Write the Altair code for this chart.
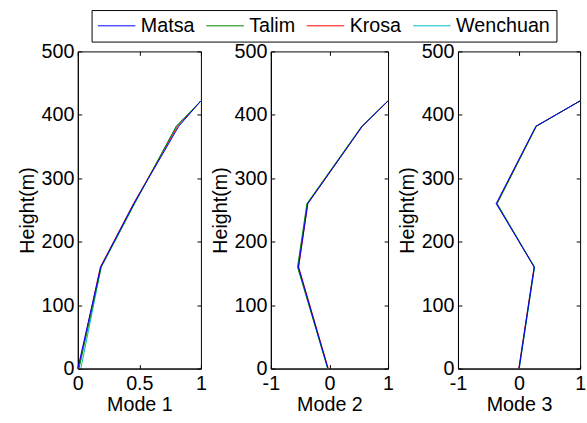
import altair as alt
import pandas as pd

heights = [0, 160, 260, 382, 422]
series = ["Matsa", "Talim", "Krosa", "Wenchuan"]
colors = ["#0000ff", "#008000", "#ff0000", "#00bfbf"]

mode1_matsa = [0.0, 0.186, 0.455, 0.82, 1.0]
mode1_talim = [0.01, 0.19, 0.46, 0.80, 1.0]
mode1_krosa = [0.005, 0.183, 0.452, 0.81, 1.0]
mode1_wenchuan = [0.025, 0.19, 0.462, 0.80, 1.0]

mode2_matsa = [-0.025, -0.53, -0.37, 0.56, 1.0]
mode2_talim = [-0.03, -0.545, -0.385, 0.55, 1.0]
mode2_krosa = [-0.02, -0.525, -0.37, 0.56, 1.0]
mode2_wenchuan = [-0.03, -0.535, -0.375, 0.555, 1.0]

mode3_matsa = [0.0, 0.25, -0.375, 0.275, 1.0]
mode3_talim = [0.0, 0.25, -0.36, 0.285, 1.0]
mode3_krosa = [-0.005, 0.245, -0.365, 0.28, 1.0]
mode3_wenchuan = [0.005, 0.255, -0.36, 0.28, 1.0]

y_ticks = [0, 100, 200, 300, 400, 500]
x_ticks1 = [0, 0.5, 1]
x_ticks23 = [-1, 0, 1]

FONT = "Liberation Sans"
H = 322


def make_df(vals):
    rows = []
    # drawn in reverse so that the first series lies on top
    for name, v in reversed(list(zip(series, vals))):
        for h, x in zip(heights, v):
            rows.append({"series": name, "x": x, "height": h})
    return pd.DataFrame(rows)


def panel(df, xdom, xticks, title, W, show_legend):
    xs = alt.Scale(domain=xdom, nice=False, zero=False)
    ys = alt.Scale(domain=[0, 500], nice=False)
    if show_legend:
        legend = alt.Legend(
            orient="none", legendX=14, legendY=-42, direction="horizontal",
            title=None, symbolType="M-1,0H3", symbolSize=361, symbolStrokeWidth=1,
            labelFontSize=20, labelFont=FONT, labelColor="black",
            strokeColor="black", fillColor="white", padding=6,
            columnPadding=9, labelOffset=24,
        )
    else:
        legend = None
    lines = alt.Chart(df).mark_line(strokeWidth=1).encode(
        x=alt.X("x:Q", scale=xs, axis=alt.Axis(
            values=xticks, title=title, ticks=False, grid=False, labelFlush=False,
            labelPadding=5, titlePadding=2, labelExpr="'' + datum.value")),
        y=alt.Y("height:Q", scale=ys, axis=alt.Axis(
            values=y_ticks, title="Height(m)", ticks=False, grid=False,
            labelFlush=False, labelPadding=4, titlePadding=4)),
        color=alt.Color("series:N", scale=alt.Scale(domain=series, range=colors),
                        legend=legend),
        order=alt.Order("height:Q"),
    )

    def tick_layer(xo, yo):
        return alt.Chart(df).mark_point(opacity=0).encode(
            x=alt.X("x:Q", scale=xs, axis=alt.Axis(
                orient=xo, offset=-H, values=xticks, labels=False, domain=False,
                tickSize=4, tickColor="black", title=None, grid=False)),
            y=alt.Y("height:Q", scale=ys, axis=alt.Axis(
                orient=yo, offset=-W, values=y_ticks, labels=False, domain=False,
                tickSize=4, tickColor="black", title=None, grid=False)),
        )

    return alt.layer(lines, tick_layer("top", "right"), tick_layer("bottom", "left")).resolve_axis(
        x="independent", y="independent").properties(width=W, height=H)


p1 = panel(make_df([mode1_matsa, mode1_talim, mode1_krosa, mode1_wenchuan]),
           [0, 1], x_ticks1, "Mode 1", 125, True)
p2 = panel(make_df([mode2_matsa, mode2_talim, mode2_krosa, mode2_wenchuan]),
           [-1, 1], x_ticks23, "Mode 2", 119, False)
p3 = panel(make_df([mode3_matsa, mode3_talim, mode3_krosa, mode3_wenchuan]),
           [-1, 1], x_ticks23, "Mode 3", 124, False)

chart = alt.hconcat(p1, p2, p3, spacing=71, bounds="flush").resolve_legend(
    color="independent"
).properties(
    padding={"left": 17, "top": 6, "right": 0, "bottom": 0},
    background="white",
).configure_view(stroke="black", strokeWidth=1).configure_axis(
    labelFont=FONT, titleFont=FONT, labelFontSize=20, titleFontSize=20,
    labelColor="black", titleColor="black", titleFontWeight="normal",
    domainColor="black", domainWidth=1,
)

chart.save("out.html", embed_options={"renderer": "svg", "actions": False})
